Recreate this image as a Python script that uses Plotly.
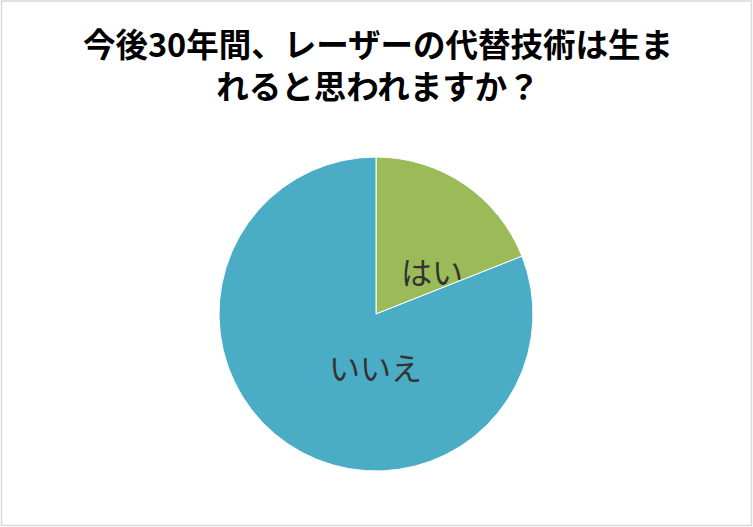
import plotly.graph_objects as go

categories = ["はい", "いいえ"]
values = [19, 81]
colors = ["#9BBB59", "#4BACC6"]
title_text = "今後30年間、レーザーの代替技術は生ま<br>れると思われますか？"

W, H = 753, 527
cx, cy, r = 376, 314, 157

fig = go.Figure(go.Pie(
    labels=categories,
    values=values,
    sort=False,
    direction="clockwise",
    rotation=0,
    marker=dict(colors=colors, line=dict(color="white", width=1)),
    textinfo="none",
    hoverinfo="label+percent",
    showlegend=False,
    domain=dict(x=[(cx - r) / W, (cx + r) / W], y=[(H - cy - r) / H, (H - cy + r) / H]),
))

label_font = dict(family="Noto Sans CJK JP", size=31, color="#333333")
fig.add_annotation(x=432 / W, y=1 - 270 / H, xref="paper", yref="paper", text=categories[0],
                   showarrow=False, font=label_font, xanchor="center", yanchor="middle")
fig.add_annotation(x=375 / W, y=1 - 366 / H, xref="paper", yref="paper", text=categories[1],
                   showarrow=False, font=label_font, xanchor="center", yanchor="middle")

fig.update_layout(
    width=W, height=H,
    margin=dict(l=0, r=0, t=0, b=0),
    paper_bgcolor="white",
    plot_bgcolor="white",
    title=dict(text="<b>" + title_text + "</b>", x=378 / W, xanchor="center",
               y=1 - 57 / H, yanchor="middle",
               font=dict(family="Noto Sans CJK JP", size=32.5, color="#000000")),
    shapes=[dict(type="rect", xref="paper", yref="paper", x0=0.002, y0=0.003, x1=0.998, y1=0.998,
                 line=dict(color="#D9D9D9", width=1.5), fillcolor="rgba(0,0,0,0)")],
)

fig.write_html("out.html", config={"displayModeBar": False},
               post_script="document.body.style.margin='0';")
